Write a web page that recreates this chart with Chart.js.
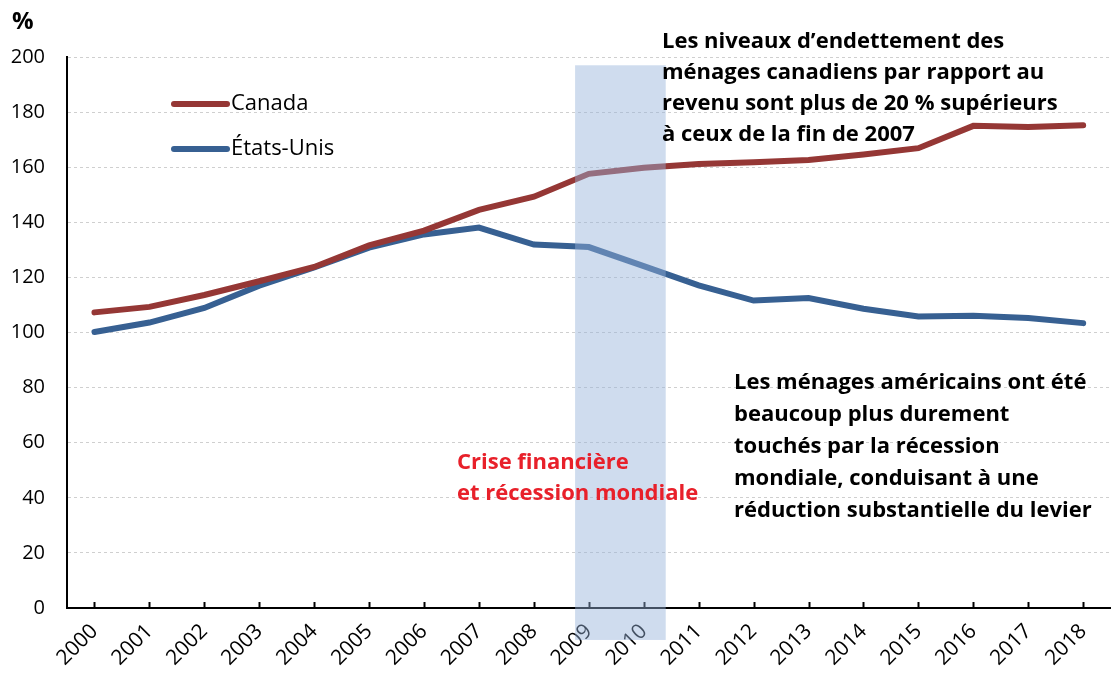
<!DOCTYPE html>
<html>
<head>
<meta charset="utf-8">
<script src="https://cdn.jsdelivr.net/npm/chart.js@4"></script>
<style>
  html, body { margin: 0; padding: 0; background: #fff; }
  #wrap { width: 1112px; height: 674px; }
</style>
</head>
<body>
<div id="wrap"><canvas id="debtChart"></canvas></div>
<script>
const years = ['2000','2001','2002','2003','2004','2005','2006','2007','2008','2009',
               '2010','2011','2012','2013','2014','2015','2016','2017','2018'];
const canada = [107.3, 109.3, 113.6, 118.6, 123.8, 131.6, 137.0, 144.5, 149.3, 157.6,
                159.8, 161.2, 161.8, 162.6, 164.6, 166.9, 175.0, 174.6, 175.2];
const usa = [100.2, 103.6, 108.9, 117.0, 123.6, 130.8, 135.6, 138.1, 131.9, 131.0,
             124.1, 117.1, 111.6, 112.5, 108.6, 105.8, 106.1, 105.3, 103.4];
const yTicks = [0, 20, 40, 60, 80, 100, 120, 140, 160, 180, 200];
const recession = { from: 8.75, to: 10.4, top: 197, bottom: -11.6 };

const FONT = '"Open Sans", sans-serif';

document.addEventListener('DOMContentLoaded', function () {

    // shaded recession band + custom legend + notes
    const extras = {
        id: 'extras',
        afterDraw(chart) {
            const ctx = chart.ctx;
            const x = chart.scales.x, y = chart.scales.y;
            ctx.save();

            // small tick marks pointing up into the plot
            ctx.strokeStyle = '#000';
            ctx.lineWidth = 2;
            years.forEach(function (_, i) {
                const px = Math.round(x.getPixelForValue(i)) + 0.5;
                ctx.beginPath();
                ctx.moveTo(px, y.bottom);
                ctx.lineTo(px, y.bottom - 6);
                ctx.stroke();
            });

            // recession band
            const x0 = x.getPixelForValue(recession.from);
            const x1 = x.getPixelForValue(recession.to);
            const y0 = y.getPixelForValue(recession.top);
            const y1 = y.getPixelForValue(recession.bottom);
            ctx.fillStyle = 'rgba(148,177,217,0.45)';
            ctx.fillRect(x0, y0, x1 - x0, y1 - y0);

            // legend
            ctx.lineCap = 'round';
            ctx.lineWidth = 6;
            ctx.font = '22px ' + FONT;
            ctx.textBaseline = 'middle';
            chart.data.datasets.forEach(function (ds, i) {
                const ly = 104 + i * 45;
                ctx.strokeStyle = ds.borderColor;
                ctx.beginPath();
                ctx.moveTo(174, ly);
                ctx.lineTo(227, ly);
                ctx.stroke();
                ctx.fillStyle = '#000';
                ctx.fillText(ds.label, 231, ly);
            });

            // unit label
            ctx.font = 'bold 24px ' + FONT;
            ctx.fillText('%', 12, 22);

            // annotations
            ctx.font = 'bold 22px ' + FONT;
            ['Les niveaux d\u2019endettement des',
             'ménages canadiens par rapport au',
             'revenu sont plus de 20 % supérieurs',
             'à ceux de la fin de 2007'].forEach(function (t, i) {
                ctx.fillText(t, 662, 42 + i * 31);
            });
            ['Les ménages américains ont été',
             'beaucoup plus durement',
             'touchés par la récession',
             'mondiale, conduisant à une',
             'réduction substantielle du levier'].forEach(function (t, i) {
                ctx.fillText(t, 734, 383 + i * 32);
            });
            ctx.fillStyle = '#e8202a';
            ctx.fillText('Crise financière', 457, 463);
            ctx.fillText('et récession mondiale', 457, 494);

            ctx.restore();
        }
    };

    const ctx = document.getElementById('debtChart').getContext('2d');
    new Chart(ctx, {
        type: 'line',
        data: {
            labels: years,
            datasets: [{
                label: 'Canada',
                data: canada,
                borderColor: '#953735',
                borderWidth: 6,
                pointRadius: 0,
                tension: 0,
                borderCapStyle: 'round'
            }, {
                label: 'États-Unis',
                data: usa,
                borderColor: '#376092',
                borderWidth: 6,
                pointRadius: 0,
                tension: 0,
                borderCapStyle: 'round'
            }]
        },
        options: {
            responsive: true,
            maintainAspectRatio: false,
            animation: false,
            layout: { padding: { top: 57, right: 0, left: 0, bottom: 0 } },
            plugins: {
                legend: { display: false },
                tooltip: { enabled: false }
            },
            scales: {
                x: {
                    offset: true,
                    grid: { display: false, drawTicks: false },
                    border: { color: '#000', width: 2 },
                    ticks: {
                        color: '#000',
                        font: { family: FONT, size: 21 },
                        minRotation: 45,
                        maxRotation: 45,
                        padding: 11,
                        autoSkip: false
                    },
                    afterFit: function (scale) { scale.height = 66; }
                },
                y: {
                    min: 0,
                    max: 200,
                    afterBuildTicks: function (scale) {
                        scale.ticks = yTicks.map(function (v) { return { value: v }; });
                    },
                    grid: {
                        color: '#cfcfcf',
                        lineWidth: 1,
                        drawTicks: false
                    },
                    border: { color: '#000', width: 2, dash: [3, 3] },
                    ticks: {
                        color: '#000',
                        font: { family: FONT, size: 20 },
                        padding: 22
                    },
                    afterFit: function (scale) { scale.width = 67; }
                }
            }
        },
        plugins: [extras]
    });
});
</script>
</body>
</html>
